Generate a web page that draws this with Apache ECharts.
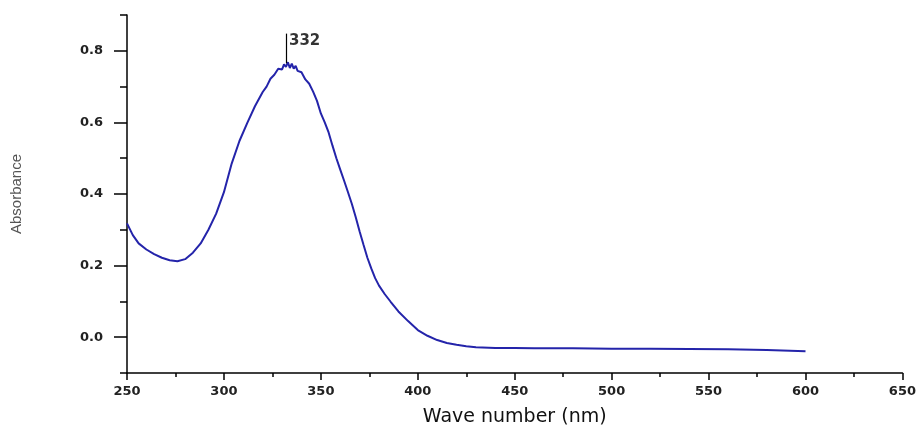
<!DOCTYPE html>
<html>
<head>
<meta charset="utf-8">
<script src="https://cdn.jsdelivr.net/npm/echarts@6/dist/echarts.min.js"></script>
<style>
html,body{margin:0;padding:0;background:#fff;}
#chart{width:919px;height:432px;}
</style>
</head>
<body>
<div id="chart"></div>
<script>
// Wavelength (nm)
const wavelengths = [250,253,256,260,264,268,272,276,280,284,288,292,296,300,304,308,312,316,320,322,324,326,328,330,331,332,333,334,335,336,337,338,340,342,344,346,348,350,352,354,356,358,360,362,364,366,368,370,372,374,376,378,380,383,386,390,395,400,405,410,415,420,425,430,440,450,460,480,500,520,540,560,580,600];
// Absorbance
const absorbance = [0.318,0.285,0.262,0.245,0.232,0.222,0.215,0.212,0.218,0.236,0.262,0.300,0.345,0.405,0.485,0.548,0.598,0.645,0.685,0.700,0.722,0.733,0.750,0.748,0.762,0.755,0.768,0.752,0.764,0.750,0.758,0.744,0.740,0.720,0.708,0.686,0.660,0.625,0.600,0.572,0.535,0.500,0.468,0.437,0.405,0.372,0.335,0.295,0.258,0.222,0.192,0.165,0.144,0.120,0.099,0.072,0.045,0.020,0.004,-0.008,-0.016,-0.021,-0.025,-0.028,-0.030,-0.030,-0.031,-0.031,-0.032,-0.032,-0.033,-0.034,-0.036,-0.039];
// Peak annotation
const peakX = 332;
const peakLabel = '332';
const peakLineBottom = 0.765;
const peakLineTop = 0.848;
const peakLabelY = 0.826;
// Tick values
const yMajorTicks = [0, 0.2, 0.4, 0.6, 0.8];

const chart = echarts.init(document.getElementById('chart'), null, {renderer: 'canvas'});
const axisLine = {show: true, onZero: false, lineStyle: {color: '#000', width: 1.5}};
const tickFont = {fontFamily: 'DejaVu Sans', fontWeight: 'bold', fontSize: 13, color: '#222'};

chart.setOption({
  animation: false,
  backgroundColor: '#fff',
  grid: {left: 127, right: 16, top: 15, bottom: 54, containLabel: false},
  xAxis: [
    {
      type: 'value', min: 250, max: 650, interval: 50,
      axisLine: axisLine,
      axisTick: {show: true, length: 7, lineStyle: {color: '#000', width: 1.5}},
      axisLabel: Object.assign({margin: 12}, tickFont),
      splitLine: {show: false},
      name: 'Wave number (nm)', nameLocation: 'middle', nameGap: 35,
      nameTextStyle: {fontFamily: 'DejaVu Sans', fontSize: 19, color: '#111'}
    },
    {
      type: 'value', min: 250, max: 650, interval: 25, position: 'bottom',
      axisLine: {show: false, onZero: false},
      axisTick: {show: true, length: 4, lineStyle: {color: '#000', width: 1.5}},
      axisLabel: {show: false},
      splitLine: {show: false}
    }
  ],
  yAxis: [
    {
      type: 'value', min: -0.1, max: 0.9,
      axisLine: axisLine,
      axisTick: {show: true, length: 13, customValues: yMajorTicks, lineStyle: {color: '#000', width: 1.5}},
      axisLabel: Object.assign({margin: 24, customValues: yMajorTicks, formatter: v => v.toFixed(1)}, tickFont),
      splitLine: {show: false},
      name: 'Absorbance', nameLocation: 'middle', nameGap: 103, nameRotate: 90,
      nameTextStyle: {fontFamily: 'Liberation Sans', fontSize: 15, color: '#555'}
    },
    {
      type: 'value', min: -0.1, max: 0.9, interval: 0.1, position: 'left',
      axisLine: {show: false, onZero: false},
      axisTick: {show: true, length: 7, lineStyle: {color: '#000', width: 1.5}},
      axisLabel: {show: false},
      splitLine: {show: false}
    }
  ],
  series: [
    {
      type: 'line',
      xAxisIndex: 0, yAxisIndex: 0,
      data: wavelengths.map((w, i) => [w, absorbance[i]]),
      showSymbol: false,
      smooth: false,
      lineStyle: {color: '#2424aa', width: 2},
      markLine: {
        silent: true, symbol: 'none', animation: false,
        lineStyle: {color: '#000', width: 1.2, type: 'solid'},
        label: {show: false},
        data: [[{coord: [peakX, peakLineBottom]}, {coord: [peakX, peakLineTop]}]]
      }
    },
    {
      type: 'scatter',
      xAxisIndex: 0, yAxisIndex: 0,
      symbolSize: 0,
      data: [[peakX, peakLabelY]],
      label: {show: true, position: 'right', distance: 3, formatter: peakLabel,
        fontFamily: 'DejaVu Sans', fontWeight: 'bold', fontSize: 15, color: '#000'}
    }
  ]
});
</script>
</body>
</html>
